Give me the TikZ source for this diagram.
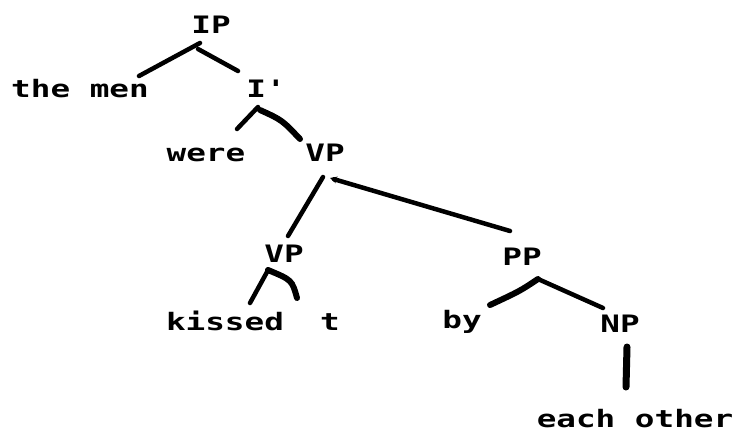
\documentclass[tikz,border=0pt]{standalone}
\usepackage{fontspec}
\newfontfamily\dotfont[FakeStretch=1.36]{DejaVu Sans Mono}
\usetikzlibrary{arrows.meta}
\begin{document}
\begin{tikzpicture}[x=1pt,y=-1pt,
  lbl/.style={font=\dotfont\bfseries\fontsize{24}{24}\selectfont, anchor=base, inner sep=0pt},
  br/.style={line width=4.5pt, line cap=round},
  brthick/.style={line width=6pt, line cap=round}]
\useasboundingbox (0,0) rectangle (736,432);
% nodes
\node[lbl] (IP)  at (211,33)  {IP};
\node[lbl] (men) at (80,97)   {the men};
\node[lbl] (Ib)  at (266,97)  {I'};
\node[lbl] (were) at (206,161) {were};
\node[lbl] (VP1) at (325,161) {VP};
\node[lbl] (VP2) at (284,262) {VP};
\node[lbl] (PP)  at (522,265) {PP};
\node[lbl] (kissed) at (225,330) {kissed};
\node[lbl] (t)   at (330,330) {t};
\node[lbl] (by)  at (462,328) {by};
\node[lbl] (NP)  at (620,332) {NP};
\node[lbl] (eo)  at (635,427) {each other};
% connector end points
\coordinate (IP-l) at (200,43);  \coordinate (men-t) at (139,76);
\coordinate (IP-r) at (198,49);  \coordinate (Ib-t) at (238,71);
\coordinate (Ib-l) at (258,107); \coordinate (were-t) at (237,129);
\coordinate (Ib-r) at (260,110); \coordinate (VP1-t) at (300,139);
\coordinate (VP1-l) at (323,177); \coordinate (VP2-t) at (288,236);
\coordinate (VP1-r) at (330,178); \coordinate (PP-t) at (510,231);
\coordinate (VP2-l) at (267,272); \coordinate (kissed-t) at (250,303);
\coordinate (VP2-r) at (268,270); \coordinate (t-t) at (297,298);
\coordinate (PP-b) at (538,279); \coordinate (by-t) at (490,305);
\coordinate (NP-t) at (603,308);
\coordinate (NP-b) at (627,347); \coordinate (eo-t) at (626,387);
% branches
\draw[br] (IP-l) -- (men-t);
\draw[br] (IP-r) -- (Ib-t);
\draw[br] (Ib-l) -- (were-t);
\draw[brthick] (Ib-r) .. controls (282,120) .. (VP1-t);
\draw[br] (VP1-l) -- (VP2-t);
\draw[br, -{Stealth[length=7pt,width=7pt]}] (PP-t) -- (VP1-r);
\draw[br] (VP2-l) -- (kissed-t);
\draw[brthick] (VP2-r) .. controls (292,280) .. (t-t);
\draw[brthick] (PP-b) .. controls (520,291) .. (by-t);
\draw[br] (PP-b) -- (NP-t);
\draw[line width=7pt, line cap=round] (NP-b) -- (eo-t);
\end{tikzpicture}
\end{document}
